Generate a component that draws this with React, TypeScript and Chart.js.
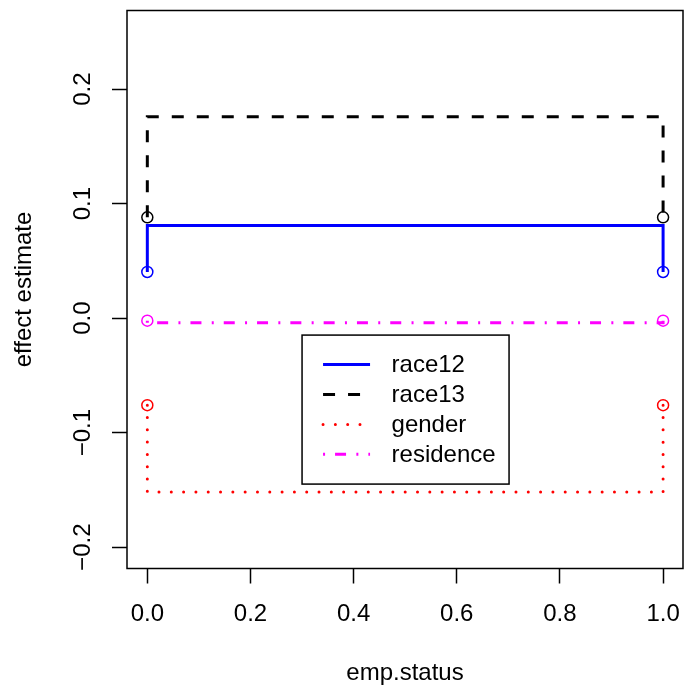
import React, { useEffect, useRef } from 'react';
import { Chart, registerables } from 'chart.js';

Chart.register(...registerables);

// emp.status path for each step line: (0, est) -> (0, level) -> (1, level) -> (1, est)
const EMP_STATUS_PATH = [0, 0, 1, 1];
const SERIES_LABELS = ['race12', 'race13', 'gender', 'residence'];
const race12 = [0.0403, 0.0808, 0.0808, 0.0403];
const race13 = [0.088, 0.1758, 0.1758, 0.088];
const gender = [-0.076, -0.1518, -0.1518, -0.076];
const residence = [-0.0022, -0.0041, -0.0041, -0.0022];

const X_TICKS = [0, 0.2, 0.4, 0.6, 0.8, 1.0];
const Y_TICKS = [-0.2, -0.1, 0, 0.1, 0.2];
const X_RANGE = [-0.0394, 1.0386];
const Y_RANGE = [-0.2186, 0.2686];
const LEGEND_AT = [0.3, -0.0148];

const FONT = "'Liberation Sans', Arial, Helvetica, sans-serif";

const fmt = (v: number) => {
  const s = Math.abs(v).toFixed(1);
  return v < -1e-9 ? '\u2212' + s : s;
};

function makeDataset(label: string, values: number[], color: string, dash: number[], cap: CanvasLineCap) {
  return {
    label,
    data: values.map((y, i) => ({ x: EMP_STATUS_PATH[i], y })),
    borderColor: color,
    borderWidth: 3,
    borderDash: dash,
    borderCapStyle: cap,
    pointRadius: (c: any) => (c.dataIndex === 0 || c.dataIndex === values.length - 1 ? 5.5 : 0),
    pointHoverRadius: 0,
    pointBorderColor: color,
    pointBackgroundColor: 'rgba(0,0,0,0)',
    pointBorderWidth: 1.5,
    fill: false,
    tension: 0,
  };
}

const boxPlugin = {
  id: 'rbox',
  afterDraw(chart: any) {
    const { ctx, chartArea } = chart;
    ctx.save();
    ctx.strokeStyle = '#000';
    ctx.lineWidth = 1.5;
    ctx.setLineDash([]);
    ctx.strokeRect(chartArea.left, chartArea.top, chartArea.right - chartArea.left, chartArea.bottom - chartArea.top);
    ctx.restore();
  },
};

const legendPlugin = {
  id: 'rlegend',
  afterDatasetsDraw(chart: any) {
    const { ctx } = chart;
    const xs = chart.scales.x;
    const ys = chart.scales.y;
    const left = xs.getPixelForValue(LEGEND_AT[0]);
    const top = ys.getPixelForValue(LEGEND_AT[1]);
    ctx.save();
    ctx.strokeStyle = '#000';
    ctx.lineWidth = 1.5;
    ctx.setLineDash([]);
    ctx.strokeRect(left, top, 207, 149);
    ctx.font = `24px ${FONT}`;
    ctx.fillStyle = '#000';
    ctx.textAlign = 'left';
    ctx.textBaseline = 'middle';
    chart.data.datasets.forEach((d: any, i: number) => {
      const ry = top + 29.5 + i * 29.9;
      ctx.save();
      ctx.strokeStyle = d.borderColor;
      ctx.lineWidth = d.borderWidth;
      ctx.setLineDash(d.borderDash || []);
      ctx.lineCap = d.borderCapStyle || 'butt';
      ctx.beginPath();
      ctx.moveTo(left + 21, ry);
      ctx.lineTo(left + 68, ry);
      ctx.stroke();
      ctx.restore();
      ctx.fillText(d.label, left + 89.5, ry + 1);
    });
    ctx.restore();
  },
};

const zeroPad = (s: any) => {
  s.paddingLeft = 0;
  s.paddingRight = 0;
  s.paddingTop = 0;
  s.paddingBottom = 0;
};

export default function App() {
  const ref = useRef<HTMLCanvasElement>(null);
  useEffect(() => {
    if (!ref.current) return;
    Chart.defaults.font.family = FONT;
    Chart.defaults.color = '#000';
    const chart = new Chart(ref.current, {
      type: 'line',
      data: {
        datasets: [
          makeDataset(SERIES_LABELS[0], race12, '#0000FF', [], 'butt'),
          makeDataset(SERIES_LABELS[1], race13, '#000000', [12, 13], 'butt'),
          makeDataset(SERIES_LABELS[2], gender, '#FF0000', [0.01, 12.3], 'round'),
          makeDataset(SERIES_LABELS[3], residence, '#FF00FF', [2, 10, 11, 10.3], 'butt'),
        ] as any,
      },
      options: {
        animation: false,
        responsive: false,
        devicePixelRatio: 1,
        events: [],
        layout: { autoPadding: false, padding: { top: 10.5, right: 1, left: 0, bottom: 0 } },
        plugins: { legend: { display: false }, tooltip: { enabled: false } },
        scales: {
          x: {
            type: 'linear',
            min: X_RANGE[0],
            max: X_RANGE[1],
            afterBuildTicks: (s: any) => {
              s.ticks = X_TICKS.map((v) => ({ value: v }));
            },
            afterFit: (s: any) => {
              s.height = 121.5;
              zeroPad(s);
            },
            grid: { drawOnChartArea: false, drawTicks: true, tickLength: 15, tickWidth: 1.5, tickColor: '#000' },
            border: { display: false },
            ticks: { autoSkip: false, maxRotation: 0, minRotation: 0, padding: 16.3, font: { size: 24 }, color: '#000', callback: (v: any) => fmt(Number(v)) },
            title: { display: true, text: 'emp.status', font: { size: 24 }, color: '#000', padding: { top: 0, bottom: 1.9 } },
          },
          y: {
            type: 'linear',
            min: Y_RANGE[0],
            max: Y_RANGE[1],
            afterBuildTicks: (s: any) => {
              s.ticks = Y_TICKS.map((v) => ({ value: v }));
            },
            afterFit: (s: any) => {
              s.width = 127;
              zeroPad(s);
            },
            grid: { drawOnChartArea: false, drawTicks: true, tickLength: 15, tickWidth: 1.5, tickColor: '#000' },
            border: { display: false },
            ticks: { autoSkip: false, minRotation: 90, maxRotation: 90, crossAlign: 'center', padding: 4.5, font: { size: 24 }, color: '#000', callback: (v: any) => fmt(Number(v)) },
            title: { display: true, text: 'effect estimate', font: { size: 24 }, color: '#000', padding: { top: 10.3, bottom: 0 } },
          },
        },
      } as any,
      plugins: [boxPlugin, legendPlugin],
    });
    return () => chart.destroy();
  }, []);
  return (
    <div style={{ position: 'absolute', left: 0, top: 0, width: 684, height: 690, background: '#fff' }}>
      <canvas ref={ref} width={684} height={690} />
    </div>
  );
}
